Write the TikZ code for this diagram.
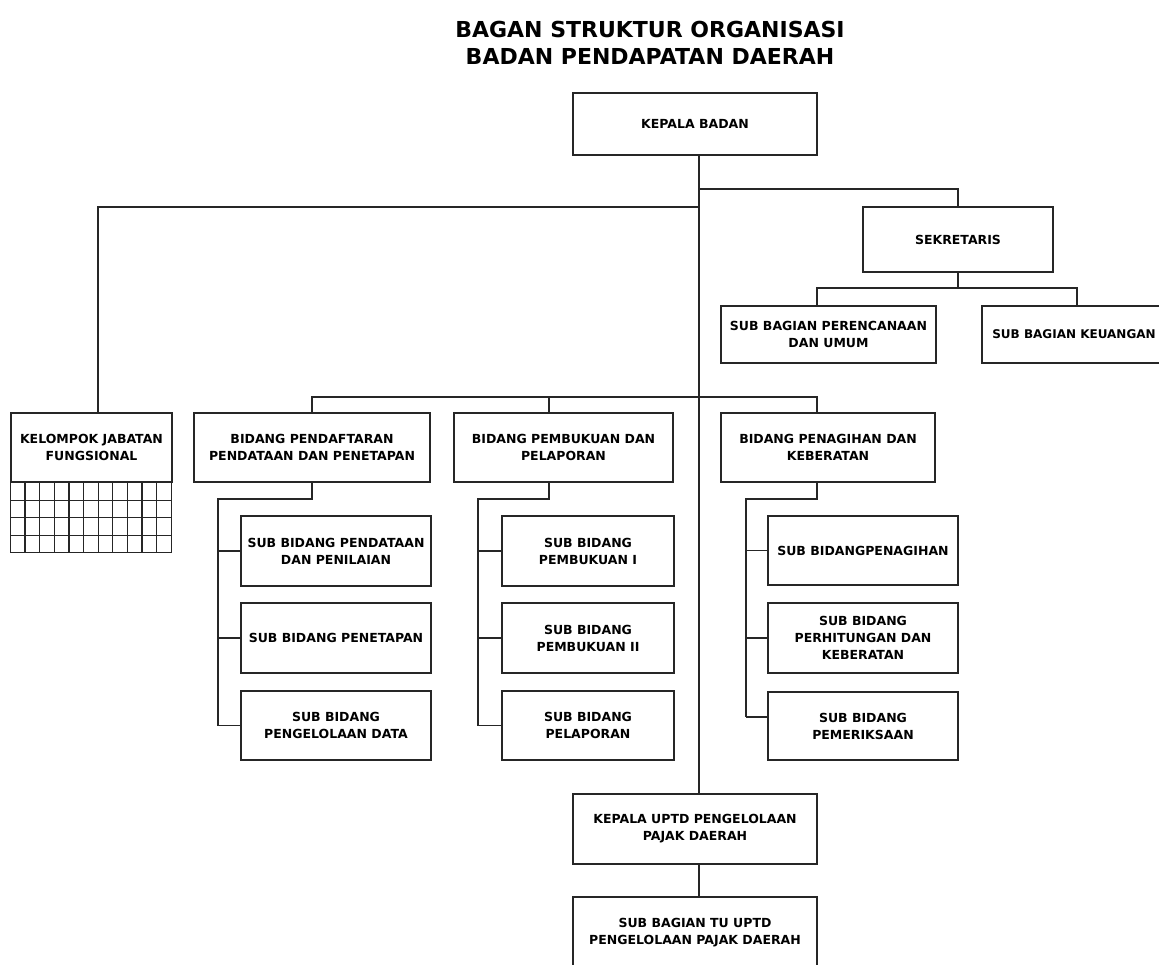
\documentclass[tikz,border=0pt]{standalone}
\usepackage{fontspec}
\setmainfont{DejaVu Sans}
\usetikzlibrary{calc}
\begin{document}
\begin{tikzpicture}[x=1pt,y=-1pt,
  box/.style={draw=black!85, line width=1.3pt, align=center, inner sep=2pt,
              font=\bfseries\fontsize{12.5}{17}\selectfont},
  conn/.style={draw=black!85, line width=1.3pt},
  ttl/.style={font=\bfseries\fontsize{22}{27}\selectfont, anchor=base}]
\useasboundingbox (0,0) rectangle (1159,964);
\clip (0,0) rectangle (1159,964);

% title
\node[ttl] (t1) at (650,37) {BAGAN STRUKTUR ORGANISASI};
\node[ttl] (t2) at (650,64) {BADAN PENDAPATAN DAERAH};

% top
\node[box, minimum width=244pt, minimum height=62pt] (kepala) at (695,124) {KEPALA BADAN};
\node[box, minimum width=190pt, minimum height=65pt] (sekr) at (958,239.5) {SEKRETARIS};
\node[box, minimum width=215pt, minimum height=57pt] (sbpu) at (828.5,334.5) {SUB BAGIAN PERENCANAAN\\DAN UMUM};
\node[box, minimum width=184pt, minimum height=57pt, font=\bfseries\fontsize{12}{17}\selectfont] (sbk) at (1074,334.5) {SUB BAGIAN KEUANGAN};

% kelompok jabatan fungsional
\node[box, minimum width=161pt, minimum height=69pt] (kjf) at (91.5,447.5) {KELOMPOK JABATAN\\FUNGSIONAL};
\draw[conn] (kjf.south west) rectangle ++(161,70);
\foreach \i in {1,...,10} \draw[conn] ($(kjf.south west)+(\i*161/11,0)$) -- ++(0,70);
\foreach \j in {1,2,3} \draw[conn] ($(kjf.south west)+(0,\j*17.5)$) -- ++(161,0);

% bidang
\node[box, minimum width=236pt, minimum height=69pt] (bppp) at (312,447.5) {BIDANG PENDAFTARAN\\PENDATAAN DAN PENETAPAN};
\node[box, minimum width=219pt, minimum height=69pt] (bpp) at (563.5,447.5) {BIDANG PEMBUKUAN DAN\\PELAPORAN};
\node[box, minimum width=214pt, minimum height=69pt] (bpk) at (828,447.5) {BIDANG PENAGIHAN DAN\\KEBERATAN};

% sub bidang left
\node[box, minimum width=190pt, minimum height=70pt] (s11) at (336,551) {SUB BIDANG PENDATAAN\\DAN PENILAIAN};
\node[box, minimum width=190pt, minimum height=70pt] (s12) at (336,638) {SUB BIDANG PENETAPAN};
\node[box, minimum width=190pt, minimum height=69pt] (s13) at (336,725.5) {SUB BIDANG\\PENGELOLAAN DATA};
% sub bidang middle
\node[box, minimum width=172pt, minimum height=70pt] (s21) at (588,551) {SUB BIDANG\\PEMBUKUAN I};
\node[box, minimum width=172pt, minimum height=70pt] (s22) at (588,638) {SUB BIDANG\\PEMBUKUAN II};
\node[box, minimum width=172pt, minimum height=69pt] (s23) at (588,725.5) {SUB BIDANG\\PELAPORAN};
% sub bidang right
\node[box, minimum width=190pt, minimum height=69pt] (s31) at (863,550.5) {SUB BIDANGPENAGIHAN};
\node[box, minimum width=190pt, minimum height=70pt] (s32) at (863,638) {SUB BIDANG\\PERHITUNGAN DAN\\KEBERATAN};
\node[box, minimum width=190pt, minimum height=68pt] (s33) at (863,726) {SUB BIDANG\\PEMERIKSAAN};

% bottom
\node[box, minimum width=244pt, minimum height=70pt] (uptd) at (695,829) {KEPALA UPTD PENGELOLAAN\\PAJAK DAERAH};
\node[box, minimum width=244pt, minimum height=72pt] (tu) at (695,933) {SUB BAGIAN TU UPTD\\PENGELOLAAN PAJAK DAERAH};

% connector coordinates
\coordinate (sp) at (699,0);
\coordinate (x98) at (98,0);
\coordinate (x549) at (549,0);
\coordinate (x817) at (817,0);
\coordinate (jr) at (699,189);
\coordinate (jl) at (699,207);
\coordinate (se) at (958,288);
\coordinate (sl) at (817,288);
\coordinate (sr) at (1077,288);
\coordinate (ba) at (312,397);
\coordinate (bb) at (549,397);
\coordinate (bc) at (817,397);
\coordinate (ka) at (312,499);
\coordinate (kb) at (549,499);
\coordinate (kc) at (817,499);
\coordinate (la) at (218,499);
\coordinate (lb) at (478,499);
\coordinate (lc) at (746,499);
\coordinate (lc3) at (746,717);

% spine
\draw[conn] (kepala.south -| sp) -- (uptd.north -| sp);
\draw[conn] (uptd.south -| sp) -- (tu.north -| sp);
% to sekretaris
\draw[conn] (jr) -| (sekr.north);
\draw[conn] (sekr.south) -- (se);
\draw[conn] (sbpu.north -| x817) -- (sl) -- (sr) -- (sr |- sbk.north);
% to kelompok
\draw[conn] (jl) -| (kjf.north -| x98);
% bidang bar
\draw[conn] (bppp.north) -- (ba) -- (bc) -- (bpk.north -| x817);
\draw[conn] (bb) -- (bpp.north -| x549);
% sub brackets
\draw[conn] (bppp.south) -- (ka) -- (la) -- (la |- s13.west);
\draw[conn] (la |- s11.west) -- (s11.west);
\draw[conn] (la |- s12.west) -- (s12.west);
\draw[conn] (la |- s13.west) -- (s13.west);
\draw[conn] (bpp.south -| kb) -- (kb) -- (lb) -- (lb |- s23.west);
\draw[conn] (lb |- s21.west) -- (s21.west);
\draw[conn] (lb |- s22.west) -- (s22.west);
\draw[conn] (lb |- s23.west) -- (s23.west);
\draw[conn] (bpk.south -| kc) -- (kc) -- (lc) -- (lc3);
\draw[conn] (lc |- s31.west) -- (s31.west);
\draw[conn] (lc |- s32.west) -- (s32.west);
\draw[conn] (lc3) -- (lc3 -| s33.west);
\end{tikzpicture}
\end{document}
